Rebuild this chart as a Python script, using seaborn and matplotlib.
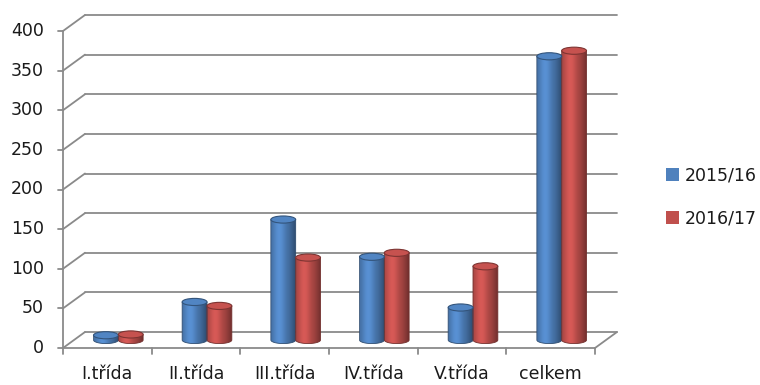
import numpy as np
import pandas as pd
import matplotlib
matplotlib.use("Agg")
import matplotlib.pyplot as plt
import matplotlib.colors as mcolors
from matplotlib.patches import Ellipse, PathPatch, Patch
from matplotlib.path import Path
from matplotlib.lines import Line2D
from matplotlib.transforms import offset_copy
import seaborn as sns

# Data
categories = ["I.třída", "II.třída", "III.třída", "IV.třída", "V.třída", "celkem"]
series = ["2015/16", "2016/17"]
values_2015 = [6, 48, 152, 105, 41, 358]
values_2016 = [7, 43, 104, 110, 93, 365]
y_ticks = [0, 50, 100, 150, 200, 250, 300, 350, 400]

colors = ["#4F81BD", "#C0504D"]
grid_color = "#8a8a8a"
text_color = "#1a1a1a"

df = pd.DataFrame({
    "třída": categories * 2,
    "počet": values_2015 + values_2016,
    "rok": [series[0]] * len(categories) + [series[1]] * len(categories),
})

sns.set_theme(style="white")
plt.rcParams["font.family"] = ["DejaVu Sans"]

fig = plt.figure(figsize=(7.6, 3.85), dpi=100)
# axes = middle depth plane of the 3D box
ax = fig.add_axes([74 / 760, 1 - 355.85 / 385, 532 / 760, (355.85 - 23) / 385])

sns.barplot(data=df, x="třída", y="počet", hue="rok", palette=colors,
            width=0.56, gap=0, ax=ax, legend=False, saturation=1)
ax.set_xlim(-0.5, 5.5)
ax.set_ylim(-20, 400)
ax.axis("off")

# depth offsets (front / back wall)
DX, DY = 11, 8
front = offset_copy(ax.transData, fig=fig, x=-DX, y=-DY, units="dots")
back = offset_copy(ax.transData, fig=fig, x=DX, y=DY, units="dots")


def seg(p, q, **kw):
    ax.add_line(Line2D([p[0], q[0]], [p[1], q[1]], transform=None,
                       color=grid_color, lw=1.3, clip_on=False, zorder=0, **kw))


n = len(categories)
x0, x1 = -0.5, n - 0.5
# back-wall gridlines and left-wall diagonals
for v in y_ticks:
    seg(back.transform((x0, v)), back.transform((x1, v)))
    seg(front.transform((x0, v)), back.transform((x0, v)))
# floor: front edge and right diagonal
seg(front.transform((x0, 0)), front.transform((x1, 0)))
seg(front.transform((x1, 0)), back.transform((x1, 0)))
# front vertical axis
seg(front.transform((x0, 0)), front.transform((x0, 400)))

# y ticks and labels
for v in y_ticks:
    p = front.transform((x0, v))
    seg((p[0] - 5, p[1]), p)
    ax.text(p[0] - 19, p[1], str(v), transform=None, ha="right", va="center",
            fontsize=12.5, color=text_color)

# category ticks and labels
for i in range(n + 1):
    p = front.transform((i - 0.5, 0))
    seg((p[0], p[1] - 6), p)
for i, c in enumerate(categories):
    p = front.transform((i, 0))
    ax.text(p[0], p[1] - 17, c, transform=None, ha="center", va="top",
            fontsize=12.5, color=text_color)

# turn the flat bars into shaded cylinders
cap_h = 9.0  # ellipse height in data units
t = np.linspace(0, 1, 64)
shade = 0.80 + 0.32 * np.exp(-((t - 0.33) / 0.28) ** 2) - 0.22 * np.clip((t - 0.7) / 0.3, 0, 1) ** 1.5

for patch in list(ax.patches):
    bx = patch.get_x()
    bw = patch.get_width()
    h = patch.get_height()
    base = np.array(mcolors.to_rgb(patch.get_facecolor()))
    patch.set_visible(False)
    xc = bx + bw / 2

    grad = np.clip(base[None, :] * shade[:, None], 0, 1)[None, :, :]
    im = ax.imshow(grad, extent=(bx, bx + bw, -cap_h / 2, h), aspect="auto",
                   interpolation="bilinear", zorder=2, origin="lower")
    th = np.linspace(np.pi, 2 * np.pi, 40)
    verts = [(bx, h), (bx, 0)]
    verts += list(zip(xc + bw / 2 * np.cos(th), cap_h / 2 * np.sin(th)))
    verts += [(bx + bw, h), (bx, h)]
    body = Path(verts, closed=True)
    clip = PathPatch(body, transform=ax.transData, facecolor="none", edgecolor="none")
    ax.add_patch(clip)
    im.set_clip_path(clip)
    outline = PathPatch(body, facecolor="none", edgecolor=base * 0.6, lw=0.6, zorder=2.5)
    ax.add_patch(outline)

    cap = Ellipse((xc, h), bw, cap_h, facecolor=np.clip(base * 1.03, 0, 1),
                  edgecolor=base * 0.65, lw=0.8, zorder=3)
    ax.add_patch(cap)

ax.set_xlim(-0.5, 5.5)
ax.set_ylim(-20, 400)

handles = [Patch(facecolor=c, edgecolor="none") for c in colors]
fig.legend(handles, series, loc="center left", bbox_to_anchor=(659 / 760, 1 - 197 / 385),
           frameon=False, fontsize=12.5, handlelength=0.75, handleheight=0.75,
           handletextpad=0.35, labelspacing=1.45, borderaxespad=0,
           labelcolor=text_color)

fig.savefig("out.png", dpi=100)
